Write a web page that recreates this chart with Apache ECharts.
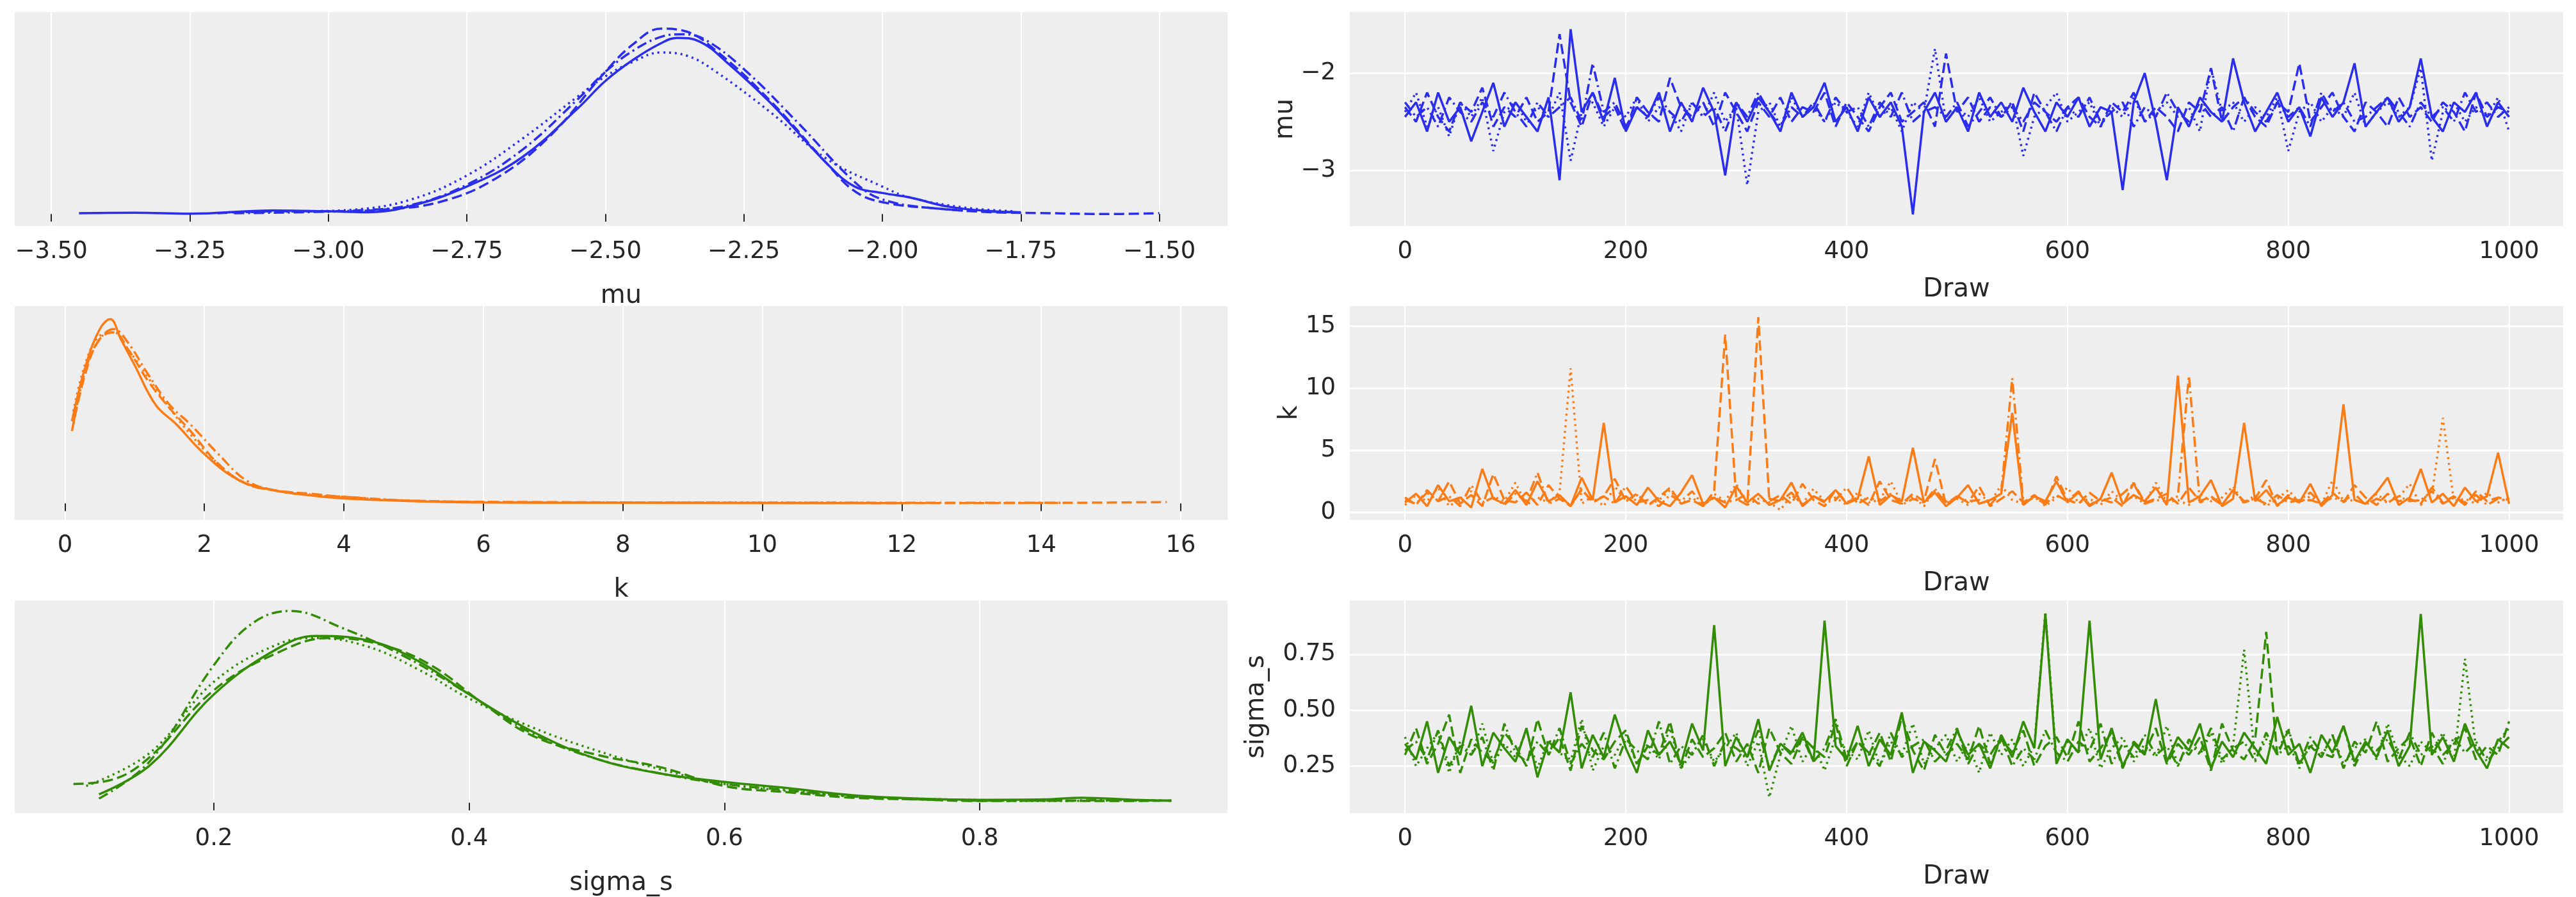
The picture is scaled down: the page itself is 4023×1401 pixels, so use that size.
<!DOCTYPE html>
<html><head><meta charset="utf-8">
<script src="https://cdn.jsdelivr.net/npm/echarts@6/dist/echarts.min.js"></script>
<style>html,body{margin:0;padding:0;background:#fff}#c{width:4023px;height:1401px}</style>
</head><body><div id="c"></div>
<script>
// ---- KDE curves: [x, density] per chain ----
const muKde0=[[-3.45,0.01],[-3.35,0.015],[-3.25,0.005],[-3.1,0.04],[-3.0,0.03],[-2.93,0.02],[-2.85,0.09],[-2.75,0.3],[-2.65,0.62],[-2.55,1.15],[-2.5,1.45],[-2.45,1.68],[-2.4,1.86],[-2.37,1.92],[-2.33,1.88],[-2.28,1.65],[-2.2,1.2],[-2.1,0.55],[-2.05,0.3],[-2.0,0.23],[-1.95,0.18],[-1.88,0.08],[-1.8,0.03],[-1.75,0.02]];
const muKde1=[[-3.2,0.01],[-3.1,0.03],[-3.0,0.03],[-2.9,0.05],[-2.8,0.13],[-2.7,0.38],[-2.6,0.85],[-2.5,1.55],[-2.45,1.85],[-2.4,2.02],[-2.36,2.0],[-2.3,1.78],[-2.2,1.22],[-2.1,0.55],[-2.05,0.25],[-2.0,0.13],[-1.9,0.06],[-1.8,0.02],[-1.7,0.01],[-1.6,0.0],[-1.5,0.01]];
const muKde2=[[-3.18,0.02],[-3.05,0.03],[-2.95,0.05],[-2.85,0.16],[-2.75,0.42],[-2.65,0.82],[-2.55,1.28],[-2.5,1.5],[-2.45,1.66],[-2.4,1.76],[-2.35,1.72],[-2.3,1.55],[-2.2,1.1],[-2.1,0.6],[-2.0,0.3],[-1.95,0.18],[-1.85,0.07],[-1.76,0.03]];
const muKde3=[[-3.17,0.01],[-3.05,0.02],[-2.95,0.04],[-2.85,0.1],[-2.75,0.32],[-2.65,0.7],[-2.55,1.25],[-2.5,1.55],[-2.45,1.78],[-2.4,1.93],[-2.36,1.96],[-2.32,1.9],[-2.25,1.58],[-2.15,0.98],[-2.05,0.35],[-2.0,0.16],[-1.9,0.06],[-1.76,0.02]];
const kKde0=[[0.1,0.25],[0.3,0.42],[0.5,0.53],[0.65,0.56],[0.8,0.5],[1.0,0.42],[1.3,0.3],[1.6,0.24],[2.0,0.15],[2.5,0.07],[3.0,0.04],[3.5,0.025],[4.0,0.015],[5.0,0.007],[6.0,0.003],[8.0,0.002],[10.0,0.001],[12.0,0.001]];
const kKde1=[[0.1,0.22],[0.3,0.4],[0.5,0.5],[0.7,0.52],[0.9,0.47],[1.2,0.37],[1.5,0.29],[1.8,0.22],[2.2,0.12],[2.6,0.06],[3.0,0.04],[3.5,0.03],[4.0,0.02],[5.0,0.008],[7.0,0.004],[10.0,0.002],[13.0,0.001],[15.8,0.004]];
const kKde2=[[0.12,0.28],[0.3,0.43],[0.5,0.51],[0.7,0.52],[0.9,0.47],[1.2,0.38],[1.5,0.29],[1.8,0.21],[2.2,0.12],[2.6,0.06],[3.0,0.04],[3.5,0.028],[4.0,0.02],[5.0,0.008],[7.0,0.003],[9.0,0.003],[11.6,0.002]];
const kKde3=[[0.12,0.24],[0.3,0.41],[0.5,0.5],[0.7,0.53],[0.9,0.49],[1.2,0.39],[1.5,0.3],[1.8,0.24],[2.2,0.15],[2.6,0.07],[3.0,0.04],[3.5,0.026],[4.0,0.02],[5.0,0.008],[7.0,0.003],[10.0,0.002],[14.3,0.002]];
const sigKde0=[[0.11,0.2],[0.15,0.9],[0.2,2.6],[0.25,3.7],[0.28,4.0],[0.32,3.9],[0.36,3.4],[0.4,2.6],[0.45,1.7],[0.5,1.05],[0.55,0.7],[0.6,0.5],[0.65,0.35],[0.7,0.18],[0.75,0.1],[0.8,0.07],[0.85,0.08],[0.88,0.12],[0.92,0.07],[0.95,0.05]];
const sigKde1=[[0.09,0.45],[0.12,0.55],[0.15,1.1],[0.2,2.7],[0.25,3.6],[0.29,3.95],[0.33,3.8],[0.37,3.3],[0.41,2.4],[0.45,1.6],[0.5,1.15],[0.55,0.85],[0.6,0.4],[0.65,0.25],[0.7,0.12],[0.75,0.08],[0.8,0.04],[0.85,0.05],[0.9,0.04],[0.95,0.05]];
const sigKde2=[[0.1,0.4],[0.15,1.2],[0.2,2.9],[0.25,3.8],[0.28,3.95],[0.32,3.75],[0.36,3.2],[0.4,2.5],[0.45,1.8],[0.5,1.25],[0.55,0.8],[0.6,0.45],[0.65,0.28],[0.7,0.15],[0.75,0.1],[0.8,0.06],[0.85,0.04],[0.9,0.05],[0.95,0.05]];
const sigKde3=[[0.11,0.1],[0.15,1.0],[0.2,3.3],[0.23,4.3],[0.26,4.6],[0.3,4.2],[0.35,3.5],[0.4,2.6],[0.45,1.65],[0.5,1.05],[0.55,0.7],[0.6,0.45],[0.65,0.3],[0.7,0.15],[0.75,0.08],[0.8,0.05],[0.85,0.05],[0.9,0.06],[0.95,0.05]];

// ---- traces: one value per 10 draws ----
const muTr0=[-2.45,-2.3,-2.6,-2.2,-2.5,-2.35,-2.7,-2.4,-2.1,-2.55,-2.3,-2.45,-2.6,-2.25,-3.1,-1.55,-2.4,-2.2,-2.5,-2.05,-2.6,-2.35,-2.45,-2.2,-2.6,-2.3,-2.5,-2.15,-2.4,-3.05,-2.3,-2.5,-2.25,-2.4,-2.6,-2.2,-2.45,-2.35,-2.1,-2.5,-2.35,-2.6,-2.25,-2.45,-2.3,-2.55,-3.45,-2.4,-2.2,-2.5,-2.35,-2.6,-2.2,-2.45,-2.3,-2.5,-2.15,-2.4,-2.6,-2.3,-2.45,-2.25,-2.55,-2.35,-2.4,-3.2,-2.3,-2.0,-2.5,-3.1,-2.35,-2.55,-2.25,-2.4,-2.5,-1.85,-2.3,-2.6,-2.4,-2.2,-2.5,-2.35,-2.65,-2.25,-2.45,-2.3,-1.9,-2.55,-2.4,-2.25,-2.5,-2.35,-1.85,-2.45,-2.6,-2.3,-2.4,-2.2,-2.55,-2.3,-2.45];
const muTr1=[-2.35,-2.5,-2.2,-2.45,-2.6,-2.3,-2.4,-2.15,-2.55,-2.35,-2.45,-2.25,-2.5,-2.4,-1.6,-2.3,-2.55,-2.2,-2.45,-2.35,-2.6,-2.25,-2.4,-2.5,-2.05,-2.35,-2.45,-2.3,-2.55,-2.2,-2.4,-2.6,-2.3,-2.45,-2.25,-2.5,-2.35,-2.4,-2.2,-2.55,-2.3,-2.45,-2.6,-2.35,-2.2,-2.5,-2.4,-2.3,-2.55,-1.8,-2.4,-2.25,-2.5,-2.35,-2.45,-2.3,-2.6,-2.2,-2.4,-2.5,-2.35,-2.25,-2.45,-2.55,-2.3,-2.4,-2.2,-2.5,-2.35,-2.45,-2.6,-2.3,-2.4,-1.95,-2.5,-2.35,-2.25,-2.45,-2.55,-2.3,-2.4,-1.9,-2.5,-2.35,-2.2,-2.45,-2.6,-2.3,-2.4,-2.55,-2.25,-2.45,-2.35,-2.5,-2.3,-2.4,-2.6,-2.2,-2.45,-2.35,-2.4];
const muTr2=[-2.4,-2.2,-2.55,-2.35,-2.65,-2.3,-2.45,-2.25,-2.8,-2.4,-2.3,-2.5,-2.35,-2.45,-2.2,-2.9,-2.4,-2.3,-2.55,-2.35,-2.45,-2.25,-2.5,-2.35,-2.4,-2.6,-2.3,-2.45,-2.2,-2.5,-2.35,-3.15,-2.4,-2.3,-2.55,-2.25,-2.45,-2.35,-2.5,-2.3,-2.4,-2.55,-2.2,-2.45,-2.35,-2.6,-2.3,-2.4,-1.75,-2.5,-2.35,-2.45,-2.25,-2.5,-2.4,-2.3,-2.85,-2.45,-2.35,-2.2,-2.5,-2.4,-2.3,-2.55,-2.35,-2.45,-2.25,-2.5,-2.4,-2.3,-2.45,-2.35,-2.6,-1.95,-2.4,-2.3,-2.5,-2.35,-2.45,-2.25,-2.8,-2.4,-2.3,-2.5,-2.35,-2.45,-2.2,-2.55,-2.4,-2.3,-2.45,-2.35,-1.95,-2.9,-2.4,-2.3,-2.5,-2.35,-2.45,-2.25,-2.6];
const muTr3=[-2.3,-2.45,-2.35,-2.55,-2.25,-2.4,-2.5,-2.3,-2.45,-2.2,-2.4,-2.55,-2.3,-2.45,-2.35,-2.25,-2.5,-1.9,-2.4,-2.3,-2.55,-2.35,-2.45,-2.25,-2.4,-2.5,-2.3,-2.45,-2.35,-2.6,-2.3,-2.45,-2.2,-2.4,-2.55,-2.35,-2.45,-2.3,-2.5,-2.25,-2.4,-2.35,-2.55,-2.3,-2.45,-2.2,-2.5,-2.4,-2.35,-2.45,-2.3,-2.55,-2.4,-2.25,-2.45,-2.35,-2.5,-2.3,-2.4,-2.6,-2.35,-2.45,-2.25,-2.5,-2.4,-2.3,-2.55,-2.35,-2.45,-2.2,-2.4,-2.5,-2.3,-2.45,-2.35,-2.6,-2.25,-2.4,-2.5,-2.3,-2.45,-2.35,-2.55,-2.2,-2.4,-2.3,-2.5,-2.45,-2.35,-2.25,-2.4,-2.55,-2.3,-2.45,-2.35,-2.5,-2.2,-2.4,-2.3,-2.45,-2.35];
const kTr0=[0.8,1.5,0.5,2.2,0.9,1.2,0.4,3.5,1.1,0.7,1.8,0.6,2.5,0.9,1.4,0.5,2.8,1.0,7.2,0.8,1.3,0.6,2.0,0.9,0.5,1.6,3.0,0.7,1.2,0.4,2.1,0.8,1.5,0.6,1.0,2.4,0.5,1.3,0.9,1.8,0.7,1.1,4.5,0.6,1.4,0.9,5.2,0.8,1.6,0.5,1.2,2.2,0.7,1.0,1.5,8.0,0.6,1.3,0.9,2.5,0.8,1.6,0.5,1.1,3.2,0.7,1.4,0.9,2.0,0.6,11.0,0.8,1.3,2.6,0.5,1.1,7.2,0.9,1.8,0.6,1.2,0.8,2.3,0.5,1.4,8.7,1.0,0.7,1.6,2.8,0.6,1.2,3.5,0.8,1.5,0.5,2.0,0.9,1.3,4.8,0.7];
const kTr1=[1.2,0.6,1.8,0.9,2.5,0.7,1.4,0.5,3.1,1.0,0.8,1.6,0.6,2.2,1.1,0.5,1.9,0.8,1.3,2.7,0.9,1.5,0.6,1.2,2.0,0.7,1.0,0.5,1.7,14.3,1.1,0.6,15.7,0.9,1.4,0.7,2.3,1.0,0.5,1.8,0.8,1.2,0.6,2.5,1.0,0.7,1.5,0.9,4.3,0.6,1.3,0.8,2.1,0.5,1.1,1.7,0.8,1.4,0.6,2.9,1.0,0.7,1.6,0.9,1.2,0.5,2.4,0.8,1.1,1.5,0.7,2.0,0.9,1.3,0.6,1.8,0.8,1.1,2.6,0.5,1.4,0.9,1.0,0.7,1.6,0.8,2.2,1.2,0.6,1.5,0.9,1.1,0.7,2.0,0.8,1.3,0.6,1.7,0.9,1.2,1.0];
const kTr2=[0.6,1.4,0.9,2.0,0.5,1.1,1.7,0.7,1.3,0.9,2.4,0.6,1.2,0.8,1.6,11.6,0.7,1.3,0.5,2.1,0.9,1.4,0.6,1.0,1.8,0.7,1.2,0.5,1.5,0.9,2.3,0.6,1.1,0.8,0.2,1.4,0.7,1.9,0.9,1.2,0.6,1.6,0.8,1.0,2.5,0.7,1.3,0.5,1.8,0.9,1.1,0.6,1.5,0.8,2.2,1.0,0.7,1.4,0.5,1.2,2.0,0.8,1.1,0.6,1.7,0.9,1.3,0.7,2.4,0.8,1.0,0.6,1.5,0.9,1.2,2.1,0.7,1.4,0.5,1.1,1.8,0.8,1.3,0.6,2.6,0.9,1.0,0.7,1.5,0.8,1.2,2.3,0.6,1.4,7.6,0.9,1.1,0.7,1.6,0.8,1.2];
const kTr3=[1.0,0.7,1.6,0.9,1.3,0.5,2.2,0.8,1.2,0.6,1.5,0.9,3.2,0.7,1.1,0.6,1.8,0.9,1.3,0.7,2.1,0.8,1.0,0.5,1.4,0.9,1.7,0.6,1.2,0.8,1.0,1.5,0.7,1.1,0.9,1.6,0.6,1.3,0.8,1.0,2.0,0.7,1.2,0.9,1.5,0.6,1.1,0.8,1.9,0.7,1.3,0.9,1.0,0.6,1.6,10.8,0.8,1.2,0.7,1.4,0.9,1.7,0.6,1.1,0.8,1.5,2.3,0.7,1.0,0.9,1.3,11.0,0.8,1.2,0.6,1.8,0.9,1.1,0.7,1.4,0.8,1.0,1.6,0.7,1.2,0.9,1.5,0.6,1.1,0.8,1.3,0.9,1.0,1.7,0.7,1.2,0.8,1.4,0.6,1.1,0.9];
const sigTr0=[0.35,0.28,0.45,0.22,0.38,0.3,0.52,0.25,0.4,0.33,0.27,0.42,0.2,0.36,0.31,0.58,0.24,0.39,0.29,0.48,0.33,0.22,0.41,0.3,0.36,0.26,0.44,0.32,0.88,0.25,0.38,0.29,0.46,0.23,0.35,0.31,0.4,0.27,0.9,0.34,0.28,0.43,0.25,0.37,0.3,0.49,0.22,0.36,0.32,0.27,0.41,0.3,0.35,0.24,0.39,0.29,0.45,0.33,0.93,0.26,0.37,0.31,0.9,0.28,0.42,0.25,0.35,0.3,0.55,0.27,0.38,0.32,0.44,0.24,0.36,0.29,0.4,0.33,0.26,0.47,0.3,0.35,0.22,0.39,0.31,0.43,0.27,0.36,0.29,0.41,0.25,0.34,0.93,0.3,0.38,0.27,0.44,0.32,0.24,0.37,0.33];
const sigTr1=[0.3,0.42,0.26,0.35,0.48,0.22,0.37,0.31,0.27,0.4,0.34,0.25,0.46,0.3,0.38,0.23,0.43,0.32,0.28,0.36,0.41,0.26,0.34,0.3,0.45,0.24,0.37,0.29,0.33,0.4,0.27,0.35,0.22,0.42,0.31,0.26,0.38,0.33,0.29,0.44,0.25,0.36,0.3,0.4,0.27,0.47,0.32,0.23,0.39,0.3,0.35,0.28,0.43,0.26,0.37,0.31,0.41,0.25,0.34,0.38,0.29,0.45,0.27,0.33,0.4,0.24,0.36,0.31,0.42,0.26,0.35,0.3,0.38,0.23,0.44,0.32,0.28,0.37,0.85,0.3,0.41,0.26,0.34,0.29,0.39,0.24,0.36,0.31,0.45,0.27,0.33,0.38,0.25,0.4,0.3,0.35,0.42,0.28,0.34,0.3,0.45];
const sigTr2=[0.38,0.25,0.33,0.4,0.22,0.36,0.3,0.44,0.26,0.35,0.29,0.41,0.24,0.37,0.31,0.27,0.46,0.23,0.34,0.3,0.39,0.26,0.35,0.28,0.42,0.24,0.31,0.37,0.27,0.33,0.4,0.25,0.36,0.11,0.3,0.43,0.27,0.35,0.23,0.38,0.32,0.28,0.41,0.25,0.36,0.3,0.44,0.26,0.33,0.39,0.27,0.35,0.22,0.4,0.3,0.37,0.25,0.34,0.94,0.28,0.36,0.31,0.42,0.24,0.33,0.38,0.27,0.35,0.29,0.43,0.25,0.36,0.3,0.4,0.26,0.34,0.77,0.28,0.37,0.31,0.42,0.24,0.35,0.29,0.39,0.26,0.33,0.37,0.28,0.44,0.3,0.25,0.36,0.31,0.4,0.27,0.73,0.33,0.29,0.36,0.42];
const sigTr3=[0.32,0.36,0.28,0.41,0.25,0.34,0.3,0.38,0.23,0.44,0.31,0.27,0.36,0.3,0.42,0.26,0.35,0.29,0.4,0.24,0.37,0.32,0.28,0.45,0.26,0.34,0.3,0.39,0.25,0.36,0.33,0.29,0.41,0.24,0.35,0.3,0.38,0.27,0.33,0.46,0.28,0.36,0.31,0.25,0.4,0.29,0.34,0.37,0.27,0.32,0.42,0.26,0.35,0.3,0.38,0.25,0.33,0.28,0.41,0.31,0.27,0.36,0.32,0.44,0.26,0.35,0.29,0.39,0.3,0.34,0.25,0.37,0.31,0.42,0.28,0.33,0.36,0.27,0.4,0.3,0.34,0.26,0.38,0.31,0.29,0.43,0.25,0.35,0.32,0.37,0.28,0.4,0.3,0.34,0.26,0.38,0.31,0.36,0.27,0.33,0.38];

const muTicks=[-3.5,-3.25,-3.0,-2.75,-2.5,-2.25,-2.0,-1.75,-1.5];
const kTicks=[0,2,4,6,8,10,12,14,16];
const sigTicks=[0.2,0.4,0.6,0.8];
const drawTicks=[0,200,400,600,800,1000];
const muTrTicks=[-3,-2];
const kTrTicks=[0,5,10,15];
const sigTrTicks=[0.25,0.5,0.75];

const COLORS=['#2a2eec','#fa7c17','#328c06'];
const DASH=['solid',[16,7],[3,6],[16,6,3,6]];
const FONT='DejaVu Sans';
const TXT='#262626';
const minus=s=>s.replace('-','\u2212');

const chart=echarts.init(document.getElementById('c'));
const rows=[{top:19,h:334},{top:478,h:334},{top:938,h:332}];
const grid=[];
rows.forEach(r=>{grid.push({left:23,top:r.top,width:1894,height:r.h,backgroundColor:'#eeeeee',show:true,borderWidth:0});
  grid.push({left:2108,top:r.top,width:1895,height:r.h,backgroundColor:'#eeeeee',show:true,borderWidth:0});});

function xAx(gi,min,max,ticks,fmt,name,gap,tick){return {type:'value',gridIndex:gi,min,max,name,nameLocation:'middle',nameGap:gap,
  nameTextStyle:{fontFamily:FONT,fontSize:40,color:TXT},
  axisLine:{show:false},axisTick:{show:tick,length:12,lineStyle:{color:TXT,width:2},customValues:ticks},
  axisLabel:{fontFamily:FONT,fontSize:37,color:TXT,margin:22,customValues:ticks,formatter:fmt},
  splitLine:{show:true,lineStyle:{color:'#ffffff',width:2}}};}
function yAx(gi,min,max,ticks,fmt,name,gap,show){return {type:'value',gridIndex:gi,min,max,name:show?name:'',nameLocation:'middle',nameGap:gap,
  nameTextStyle:{fontFamily:FONT,fontSize:40,color:TXT},
  axisLine:{show:false},axisTick:{show:false,customValues:ticks||undefined},
  axisLabel:{show:show,fontFamily:FONT,fontSize:37,color:TXT,margin:22,customValues:ticks||undefined,formatter:fmt},
  splitLine:{show:show,lineStyle:{color:'#ffffff',width:3}}};}

const xAxis=[
  xAx(0,-3.566,-1.377,muTicks,v=>minus(v.toFixed(2)),'mu',90,true),
  xAx(1,-50,1049,drawTicks,v=>String(v),'Draw',80,false),
  xAx(2,-0.72,16.67,kTicks,v=>String(v),'k',90,true),
  xAx(3,-50,1049,drawTicks,v=>String(v),'Draw',80,false),
  xAx(4,0.044,0.994,sigTicks,v=>v.toFixed(1),'sigma_s',90,true),
  xAx(5,-50,1049,drawTicks,v=>String(v),'Draw',80,false)];
const yAxis=[
  yAx(0,-0.13,2.2,null,null,'',0,false),
  yAx(1,-3.57,-1.375,muTrTicks,v=>minus(String(v)),'mu',70,true),
  yAx(2,-0.05,0.6,null,null,'',0,false),
  yAx(3,-0.6,16.6,kTrTicks,v=>String(v),'k',70,true),
  yAx(4,-0.25,4.85,null,null,'',0,false),
  yAx(5,0.04,0.99,sigTrTicks,v=>v.toFixed(2),'sigma_s',125,true)];

const kdes=[[muKde0,muKde1,muKde2,muKde3],[kKde0,kKde1,kKde2,kKde3],[sigKde0,sigKde1,sigKde2,sigKde3]];
const traces=[[muTr0,muTr1,muTr2,muTr3],[kTr0,kTr1,kTr2,kTr3],[sigTr0,sigTr1,sigTr2,sigTr3]];
const series=[];
for(let r=0;r<3;r++){
  kdes[r].forEach((d,c)=>series.push({type:'line',xAxisIndex:2*r,yAxisIndex:2*r,data:d,smooth:0.4,showSymbol:false,symbol:'none',
    lineStyle:{color:COLORS[r],width:3.5,type:DASH[c]},animation:false}));
  traces[r].forEach((d,c)=>series.push({type:'line',xAxisIndex:2*r+1,yAxisIndex:2*r+1,data:d.map((v,i)=>[i*10,v]),showSymbol:false,symbol:'none',
    lineStyle:{color:COLORS[r],width:3.5,type:DASH[c]},animation:false}));
}
chart.setOption({animation:false,backgroundColor:'#ffffff',grid,xAxis,yAxis,series});
</script></body></html>
